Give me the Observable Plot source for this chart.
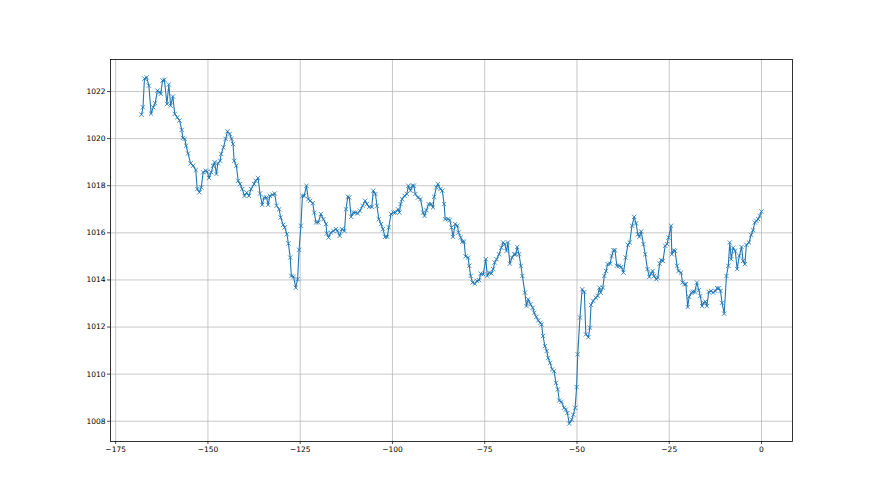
<!DOCTYPE html>
<html>
<head>
<meta charset="utf-8">
<script src="https://cdn.jsdelivr.net/npm/d3@7"></script>
<script src="https://cdn.jsdelivr.net/npm/@observablehq/plot@0.6"></script>
<style>
  html, body { margin: 0; padding: 0; background: #ffffff; }
  #chart svg { display: block; }
</style>
</head>
<body>
<div id="chart"></div>
<script>
// Hours relative to now (x) and pressure in hPa (y)
const hours = [
  -168.0, -167.6, -167.2, -166.6, -166.0, -165.4, -164.8, -164.3, -163.7, -163.1,
  -162.8, -162.3, -161.8, -161.1, -160.6, -160.1, -159.5, -159.0, -158.3, -157.7,
  -157.1, -156.8, -156.3, -155.9, -155.4, -154.7, -154.0, -153.3, -152.9, -152.3,
  -151.8, -151.3, -150.6, -150.2, -149.7, -149.1, -148.6, -148.2, -147.7, -147.3,
  -146.7, -146.4, -145.8, -145.2, -144.7, -144.1, -143.6, -143.2, -142.9, -142.3,
  -141.8, -141.3, -140.7, -140.1, -139.5, -138.9, -138.3, -137.5, -137.1, -136.4,
  -135.9, -135.3, -134.8, -134.1, -133.7, -133.2, -132.5, -131.9, -131.4, -130.7,
  -130.3, -129.6, -129.2, -128.6, -128.2, -127.7, -127.4, -126.8, -126.2, -125.7,
  -125.3, -124.8, -124.4, -123.9, -123.3, -122.8, -122.3, -121.6, -121.2, -120.7,
  -120.1, -119.4, -118.7, -118.0, -117.8, -117.3, -116.7, -116.0, -115.3, -114.9,
  -114.3, -113.7, -113.0, -112.6, -112.1, -111.7, -111.2, -110.6, -110.1, -109.4,
  -108.8, -108.1, -107.4, -106.9, -106.3, -105.6, -105.2, -104.6, -104.2, -103.7,
  -103.1, -102.6, -102.0, -101.4, -101.0, -100.4, -99.7, -99.2, -98.5, -98.1,
  -97.8, -97.4, -96.7, -96.1, -95.7, -95.1, -94.6, -94.2, -93.8, -93.1,
  -92.4, -91.7, -91.3, -90.8, -90.2, -89.5, -89.0, -88.7, -88.1, -87.7,
  -87.0, -86.5, -86.0, -85.7, -84.9, -84.5, -84.0, -83.6, -83.0, -82.4,
  -82.1, -81.5, -81.1, -80.6, -80.2, -79.5, -79.2, -78.8, -78.3, -77.7,
  -77.1, -76.5, -76.1, -75.4, -74.7, -74.3, -73.8, -73.2, -72.7, -72.3,
  -71.8, -71.1, -70.5, -70.0, -69.6, -69.1, -68.7, -68.2, -67.6, -67.0,
  -66.6, -66.2, -65.7, -65.2, -64.8, -64.1, -63.7, -63.2, -62.6, -62.0,
  -61.6, -61.0, -60.5, -59.9, -59.6, -59.2, -58.7, -58.2, -57.8, -57.3,
  -56.7, -56.2, -55.7, -55.2, -54.8, -54.2, -53.5, -53.0, -52.6, -52.1,
  -51.4, -51.0, -50.5, -50.1, -49.8, -49.2, -48.6, -48.0, -47.6, -46.9,
  -46.5, -46.2, -45.6, -44.9, -44.4, -43.9, -43.6, -43.0, -42.6, -42.1,
  -41.7, -41.0, -40.6, -40.1, -39.7, -39.2, -38.6, -38.0, -37.4, -36.8,
  -36.2, -35.7, -35.1, -34.5, -34.0, -33.5, -33.1, -32.6, -32.0, -31.5,
  -30.9, -30.4, -29.9, -29.5, -29.1, -28.5, -28.1, -27.6, -27.2, -26.7,
  -26.1, -25.6, -25.2, -24.5, -24.3, -23.8, -23.4, -22.9, -22.5, -21.8,
  -21.4, -20.9, -20.5, -20.0, -19.6, -19.0, -18.6, -18.1, -17.5, -17.0,
  -16.6, -16.1, -15.7, -15.2, -14.8, -14.3, -13.7, -13.1, -12.5, -12.0,
  -11.6, -11.1, -10.7, -10.1, -9.5, -9.0, -8.6, -8.2, -7.7, -7.1,
  -6.6, -6.0, -5.4, -5.0, -4.5, -4.1, -3.4, -2.8, -2.3, -1.8,
  -1.4, -0.9, -0.5, 0.0
];
const pressure = [
  1021.02, 1021.33, 1022.55, 1022.60, 1022.25, 1021.06, 1021.33, 1021.50, 1022.04, 1021.97,
  1021.90, 1022.47, 1022.50, 1021.47, 1022.30, 1021.40, 1021.79, 1021.05, 1020.90, 1020.77,
  1020.37, 1020.03, 1019.99, 1019.70, 1019.37, 1018.95, 1018.85, 1018.67, 1017.86, 1017.72,
  1017.93, 1018.57, 1018.64, 1018.60, 1018.33, 1018.57, 1018.85, 1019.00, 1018.50, 1018.95,
  1019.06, 1019.35, 1019.63, 1019.99, 1020.31, 1020.20, 1019.99, 1019.77, 1019.06, 1018.85,
  1018.21, 1018.07, 1017.86, 1017.57, 1017.71, 1017.57, 1017.86, 1018.07, 1018.21, 1018.33,
  1017.67, 1017.19, 1017.50, 1017.50, 1017.19, 1017.57, 1017.62, 1017.67, 1017.15, 1017.00,
  1016.65, 1016.34, 1016.23, 1015.94, 1015.55, 1014.95, 1014.17, 1014.13, 1013.67, 1014.03,
  1015.28, 1016.30, 1017.57, 1017.57, 1018.00, 1017.43, 1017.36, 1017.26, 1016.86, 1016.44,
  1016.44, 1016.80, 1016.58, 1016.37, 1015.97, 1015.80, 1016.01, 1016.08, 1016.16, 1016.08,
  1015.87, 1016.16, 1016.08, 1017.00, 1017.53, 1017.50, 1016.68, 1016.86, 1016.86, 1016.82,
  1016.94, 1017.15, 1017.36, 1017.22, 1017.10, 1017.10, 1017.79, 1017.65, 1017.15, 1016.58,
  1016.37, 1016.16, 1015.83, 1015.83, 1016.23, 1016.80, 1016.86, 1016.86, 1017.00, 1016.86,
  1017.22, 1017.43, 1017.57, 1017.65, 1018.00, 1017.79, 1018.00, 1018.00, 1017.65, 1017.50,
  1017.43, 1016.86, 1016.72, 1016.96, 1017.22, 1017.22, 1017.08, 1017.53, 1017.93, 1018.07,
  1017.86, 1017.79, 1017.22, 1016.58, 1016.58, 1016.54, 1016.23, 1015.83, 1016.37, 1016.30,
  1016.01, 1015.80, 1015.62, 1015.63, 1015.00, 1014.95, 1014.60, 1014.17, 1013.89, 1013.84,
  1013.96, 1013.99, 1014.27, 1014.24, 1014.88, 1014.17, 1014.31, 1014.27, 1014.46, 1014.74,
  1014.88, 1015.09, 1015.37, 1015.59, 1015.52, 1015.23, 1015.59, 1014.69, 1014.95, 1015.09,
  1015.09, 1015.40, 1015.09, 1014.60, 1014.17, 1013.46, 1012.89, 1013.18, 1012.97, 1012.82,
  1012.61, 1012.43, 1012.28, 1012.18, 1012.11, 1011.62, 1011.19, 1010.98, 1010.69, 1010.48,
  1010.20, 1010.13, 1009.63, 1009.35, 1008.88, 1008.82, 1008.57, 1008.50, 1008.35, 1007.90,
  1008.07, 1008.28, 1008.57, 1009.45, 1010.84, 1012.40, 1013.60, 1013.49, 1011.69, 1011.57,
  1011.97, 1012.94, 1013.11, 1013.25, 1013.32, 1013.67, 1013.46, 1013.67, 1014.17, 1014.38,
  1014.67, 1014.69, 1015.02, 1015.26, 1015.26, 1014.60, 1014.60, 1014.55, 1014.31, 1014.95,
  1015.49, 1015.59, 1016.30, 1016.68, 1016.40, 1015.94, 1015.83, 1016.06, 1015.52, 1015.09,
  1014.46, 1014.13, 1014.27, 1014.38, 1014.17, 1014.03, 1014.10, 1014.69, 1014.84, 1014.81,
  1015.45, 1015.52, 1015.80, 1016.30, 1015.09, 1015.26, 1015.23, 1014.60, 1014.38, 1014.31,
  1013.89, 1013.82, 1013.82, 1012.85, 1013.28, 1013.46, 1013.50, 1013.49, 1013.89, 1013.56,
  1013.32, 1012.89, 1013.03, 1013.08, 1012.89, 1013.49, 1013.53, 1013.46, 1013.53, 1013.65,
  1013.65, 1013.53, 1013.03, 1012.57, 1014.17, 1014.60, 1015.59, 1014.88, 1015.37, 1015.23,
  1014.46, 1015.02, 1015.40, 1014.81, 1014.67, 1015.49, 1015.59, 1015.91, 1016.11, 1016.44,
  1016.51, 1016.58, 1016.72, 1016.91
];
const xTicks = [-175, -150, -125, -100, -75, -50, -25, 0];
const yTicks = [1008, 1010, 1012, 1014, 1016, 1018, 1020, 1022];

const data = hours.map((h, i) => ({hour: h, hPa: pressure[i]}));

const color = "#1f77b4";
const fmt = d3.format("d");
const chart = Plot.plot({
  width: 880,
  height: 495,
  marginLeft: 110,
  marginRight: 88,
  marginTop: 59,
  marginBottom: 54,
  style: {background: "#ffffff", color: "#000000", fontFamily: "DejaVu Sans, sans-serif"},
  x: {domain: [-176.4, 8.4], label: null},
  y: {domain: [1007.14, 1023.36], label: null},
  marks: [
    Plot.gridX(xTicks, {stroke: "#b0b0b0", strokeOpacity: 1, strokeWidth: 0.7}),
    Plot.gridY(yTicks, {stroke: "#b0b0b0", strokeOpacity: 1, strokeWidth: 0.7}),
    Plot.line(data, {x: "hour", y: "hPa", stroke: color, strokeWidth: 1.1}),
    Plot.dot(data, {x: "hour", y: "hPa", symbol: "times", r: 2.1, stroke: color, strokeWidth: 0.8}),
    Plot.frame({stroke: "#000000", strokeWidth: 0.8}),
    Plot.axisX({ticks: xTicks, tickFormat: fmt, tickSize: 3, tickPadding: 2, fontSize: 7.5, label: null, stroke: "#000000", strokeWidth: 0.7}),
    Plot.axisY({ticks: yTicks, tickFormat: fmt, tickSize: 3, tickPadding: 2, fontSize: 7.5, label: null, stroke: "#000000", strokeWidth: 0.7})
  ]
});
document.getElementById("chart").appendChild(chart);
</script>
</body>
</html>
